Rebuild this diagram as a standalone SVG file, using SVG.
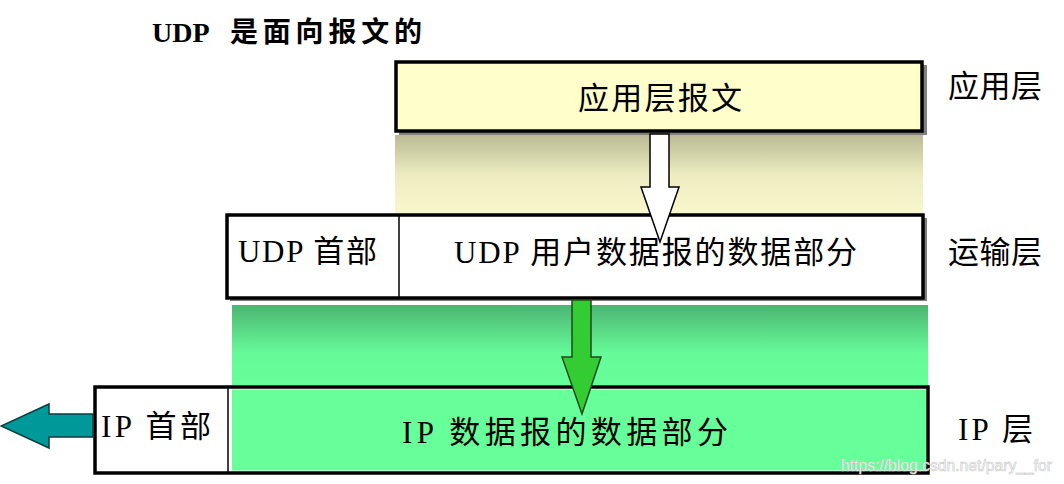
<svg xmlns="http://www.w3.org/2000/svg" width="1064" height="484" viewBox="0 0 1064 484">
  <defs>
    <linearGradient id="gYellow" x1="0" y1="0" x2="0" y2="1">
      <stop offset="0" stop-color="#BABA95"/>
      <stop offset="0.5" stop-color="#ECECC0"/>
      <stop offset="1" stop-color="#F8F8CC"/>
    </linearGradient>
    <linearGradient id="gGreen" x1="0" y1="0" x2="0" y2="1">
      <stop offset="0" stop-color="#4CB572"/>
      <stop offset="0.6" stop-color="#66FA98"/>
      <stop offset="1" stop-color="#66FF99"/>
    </linearGradient>
    <style>
      .box { stroke: #000; stroke-width: 3.5; }
      .shadow { fill: #808080; }
      .div { stroke: #000; stroke-width: 1.5; }
      .t { font-family: "Liberation Serif", "Noto Sans CJK SC", serif; font-size: 31px; fill: #000; }
      .title { font-family: "Liberation Serif", "Noto Sans CJK SC", serif; font-size: 28px; font-weight: bold; fill: #000; }
      .wm { font-family: "Liberation Sans", Arial, sans-serif; font-size: 16px; fill: #ffffff; stroke: #c8c8c8; stroke-width: 0.6; }
    </style>
  </defs>

  <rect width="1064" height="484" fill="#ffffff"/>

  <g id="title">
    <text class="title" y="42"><tspan x="152">UDP</tspan><tspan x="230" textLength="192" lengthAdjust="spacing">是面向报文的</tspan></text>
  </g>

  <g id="bands">
    <rect x="395" y="135" width="528" height="78" fill="url(#gYellow)"/>
    <rect x="232" y="305" width="696" height="80" fill="url(#gGreen)"/>
  </g>

  <g id="app-message">
    <rect class="shadow" x="399" y="65" width="528" height="70"/>
    <rect class="box" x="396" y="62" width="526" height="69" fill="#FFFFCC"/>
    <text class="t" x="578" y="109" textLength="164" lengthAdjust="spacing">应用层报文</text>
  </g>

  <g id="udp-datagram">
    <rect class="shadow" x="230" y="218" width="697" height="83"/>
    <rect class="box" x="227" y="215" width="696" height="83" fill="#ffffff"/>
    <line class="div" x1="399" y1="216" x2="399" y2="297"/>
    <text class="t" x="238" y="262" textLength="139" lengthAdjust="spacing">UDP 首部</text>
    <text class="t" x="454" y="263" textLength="403" lengthAdjust="spacing">UDP 用户数据报的数据部分</text>
  </g>

  <g id="ip-datagram">
    <rect class="box" x="95" y="387" width="833" height="86" fill="#ffffff"/>
    <rect x="232" y="389.5" width="694" height="81" fill="#66FF99"/>
    <line class="div" x1="228" y1="388" x2="228" y2="472"/>
    <text class="t" x="101" y="437" textLength="110" lengthAdjust="spacing">IP 首部</text>
    <text class="t" x="402" y="443" textLength="326" lengthAdjust="spacing">IP 数据报的数据部分</text>
  </g>

  <g id="layer-labels">
    <text class="t" x="948" y="97" textLength="94" lengthAdjust="spacing">应用层</text>
    <text class="t" x="948" y="263" textLength="94" lengthAdjust="spacing">运输层</text>
    <text class="t" x="958" y="440" textLength="75" lengthAdjust="spacing">IP 层</text>
  </g>

  <g id="connectors">
    <polygon points="650,134 669,134 669,187 679,187 660,242 641,187 650,187" fill="#ffffff" stroke="#000" stroke-width="1.5"/>
    <polygon points="572,300 591,300 591,357 601,357 582,414 562,357 572,357" fill="#33CC33" stroke="#1E4A1E" stroke-width="1.5"/>
    <polygon points="93,414 49,414 49,404 1,426 49,448 49,437 93,437" fill="#009999" stroke="#0B3B3B" stroke-width="1.5"/>
  </g>

  <g id="watermark">
    <text class="wm" x="841" y="471" textLength="211" lengthAdjust="spacingAndGlyphs">https://blog.csdn.net/pary__for</text>
  </g>
</svg>
